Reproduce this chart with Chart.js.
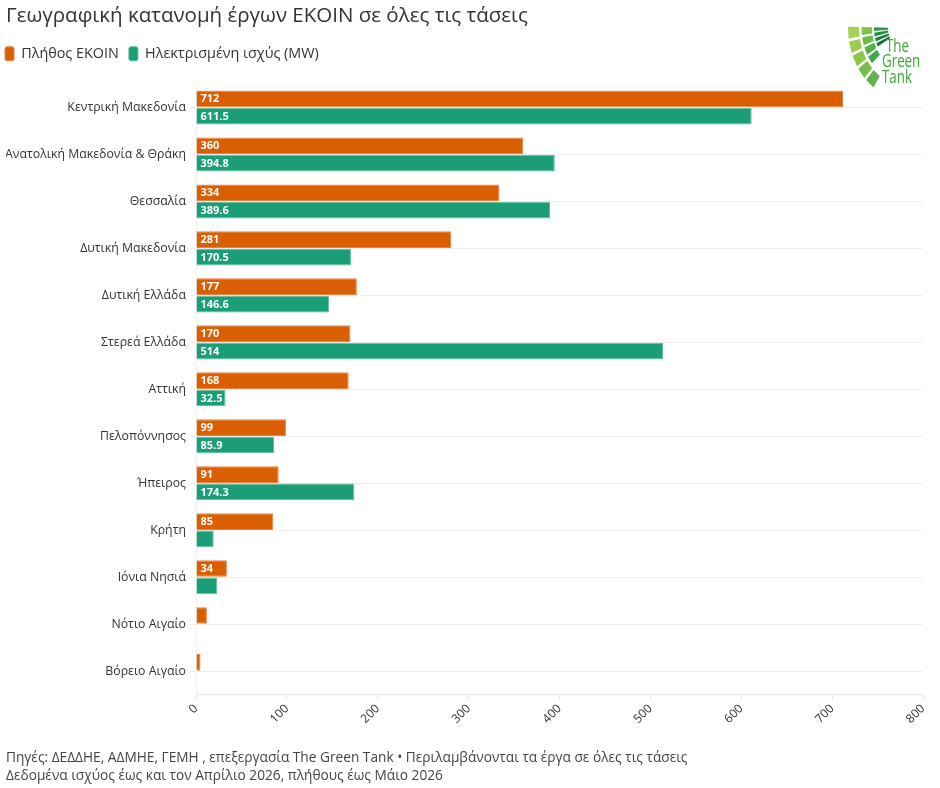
<!DOCTYPE html>
<html>
<head>
<meta charset="utf-8">
<script src="https://cdn.jsdelivr.net/npm/chart.js@4/dist/chart.umd.min.js"></script>
<style>
  html, body { margin: 0; padding: 0; background: #fff; }
  #wrap { width: 940px; height: 788px; position: relative; }
</style>
</head>
<body>
<div id="wrap"><canvas id="chart"></canvas></div>
<script>
const regions = [
  'Κεντρική Μακεδονία',
  'Ανατολική Μακεδονία & Θράκη',
  'Θεσσαλία',
  'Δυτική Μακεδονία',
  'Δυτική Ελλάδα',
  'Στερεά Ελλάδα',
  'Αττική',
  'Πελοπόννησος',
  'Ήπειρος',
  'Κρήτη',
  'Ιόνια Νησιά',
  'Νότιο Αιγαίο',
  'Βόρειο Αιγαίο'
]
const projectCount = [712, 360, 334, 281, 177, 170, 168, 99, 91, 85, 34, 12, 5]
const powerMW = [611.5, 394.8, 389.6, 170.5, 146.6, 514, 32.5, 85.9, 174.3, 19.5, 23.5, null, null]
const xTicks = [0, 100, 200, 300, 400, 500, 600, 700, 800]

const FONT = "'Open Sans', 'Noto Sans', sans-serif"

// white value labels at the start of each bar (only when the bar is wide enough)
const barLabels = {
  id: 'barLabels',
  afterDatasetsDraw(chart) {
    const ctx = chart.ctx
    ctx.save()
    ctx.font = 'bold 11px ' + FONT
    ctx.fillStyle = '#fff'
    ctx.textBaseline = 'middle'
    ctx.textAlign = 'left'
    chart.data.datasets.forEach((ds, i) => {
      chart.getDatasetMeta(i).data.forEach((bar, j) => {
        const v = ds.data[j]
        if (v == null || v < 30) return
        ctx.fillText(String(v), bar.base + 4, bar.y + 0.5)
      })
    })
    ctx.restore()
  }
}

// a bit more room under the legend, and legend pulled to the left edge
const legendTweak = {
  id: 'legendTweak',
  beforeInit(chart) {
    const fit = chart.legend.fit
    chart.legend.fit = function () {
      fit.bind(chart.legend)()
      this.height += 13
    }
  },
  afterLayout(chart) {
    chart.legend.left -= 11
    chart.legend.right -= 11
  }
}

// rough drawing of the logo in the top right
const logo = {
  id: 'logo',
  afterDraw(chart) {
    const ctx = chart.ctx
    const cx = 905, cy = 28, sy = 1.25
    const d = Math.PI / 180
    const pt = (r, a) => [cx + r * Math.cos(a * d), cy + r * Math.sin(a * d) * sy]
    const cell = (r0, r1, a0, a1, color) => {
      const p = [pt(r0, a0), pt(r1, a0), pt(r1, a1), pt(r0, a1)]
      ctx.beginPath()
      ctx.moveTo(p[0][0], p[0][1])
      p.slice(1).forEach(q => ctx.lineTo(q[0], q[1]))
      ctx.closePath()
      ctx.fillStyle = color
      ctx.fill()
    }
    ctx.save()
    const outer = ['#a6d257', '#9ccd50', '#8cc64c', '#76bd4b', '#5fb44b']
    outer.forEach((c, k) => cell(46, 57, 181 - k * 12, 171.5 - k * 12, c))
    const mid = ['#7fc44c', '#6cbc4b', '#55b14c', '#42a84c']
    mid.forEach((c, k) => cell(33, 43.5, 181 - k * 11, 172.5 - k * 11, c))
    const inner = ['#2e9a4c', '#238d46', '#1a7f40', '#157339']
    inner.forEach((c, k) => cell(17, 31, 181 - k * 8, 175.5 - k * 8, c))
    ctx.fillStyle = '#3aa935'
    ctx.font = '18px ' + FONT
    ctx.textAlign = 'left'
    ctx.textBaseline = 'alphabetic'
    const word = (t, x, y) => {
      ctx.save()
      ctx.translate(x, y)
      ctx.scale(0.74, 1)
      ctx.fillText(t, 0, 0)
      ctx.restore()
    }
    word('The', 886, 52)
    word('Green', 882, 67)
    word('Tank', 882, 83)
    ctx.restore()
  }
}

new Chart(document.getElementById('chart'), {
  type: 'bar',
  data: {
    labels: regions,
    datasets: [
      {
        label: 'Πλήθος ΕΚΟΙΝ',
        data: projectCount,
        backgroundColor: '#d95f02',
        borderColor: '#e8824a',
        borderWidth: 1,
        categoryPercentage: 0.74,
        barPercentage: 0.96
      },
      {
        label: 'Ηλεκτρισμένη ισχύς (MW)',
        data: powerMW,
        backgroundColor: '#1b9e77',
        borderColor: '#5cbf9c',
        borderWidth: 1,
        categoryPercentage: 0.74,
        barPercentage: 0.96
      }
    ]
  },
  plugins: [barLabels, legendTweak, logo],
  options: {
    indexAxis: 'y',
    responsive: true,
    maintainAspectRatio: false,
    animation: false,
    layout: {
      padding: { left: 6, right: 17, top: 0, bottom: 1 }
    },
    plugins: {
      title: {
        display: true,
        text: 'Γεωγραφική κατανομή έργων ΕΚΟΙΝ σε όλες τις τάσεις',
        align: 'start',
        color: '#333',
        font: { family: FONT, size: 20.5, weight: 'normal' },
        padding: { top: 4, bottom: 8 }
      },
      legend: {
        position: 'top',
        align: 'start',
        labels: {
          color: '#333',
          font: { family: FONT, size: 14.4 },
          boxWidth: 9,
          boxHeight: 14,
          useBorderRadius: true,
          borderRadius: 2,
          padding: 10
        }
      },
      subtitle: {
        display: true,
        position: 'bottom',
        align: 'start',
        text: [
          'Πηγές: ΔΕΔΔΗΕ, ΑΔΜΗΕ, ΓΕΜΗ , επεξεργασία The Green Tank • Περιλαμβάνονται τα έργα σε όλες τις τάσεις',
          'Δεδομένα ισχύος έως και τον Απρίλιο 2026, πλήθους έως Μάιο 2026'
        ],
        color: '#444',
        font: { family: FONT, size: 13.7, lineHeight: 1.3 },
        padding: { top: 21, bottom: 2 }
      },
      tooltip: { enabled: false }
    },
    scales: {
      x: {
        min: 0,
        max: 800,
        afterBuildTicks: (scale) => {
          scale.ticks = xTicks.map(v => ({ value: v }))
        },
        grid: {
          drawOnChartArea: false,
          color: '#e6e6e6',
          tickLength: 5
        },
        border: { color: '#e6e6e6' },
        ticks: {
          color: '#333',
          font: { family: FONT, size: 12 },
          minRotation: 45,
          maxRotation: 45,
          padding: 2
        }
      },
      y: {
        afterFit: (scale) => { scale.width = 190 },
        grid: {
          offset: false,
          color: '#eeeeee',
          tickLength: 6
        },
        border: { color: '#f0f0f0' },
        ticks: {
          color: '#333',
          font: { family: FONT, size: 12.3 },
          padding: 4
        }
      }
    }
  }
})
</script>
</body>
</html>
